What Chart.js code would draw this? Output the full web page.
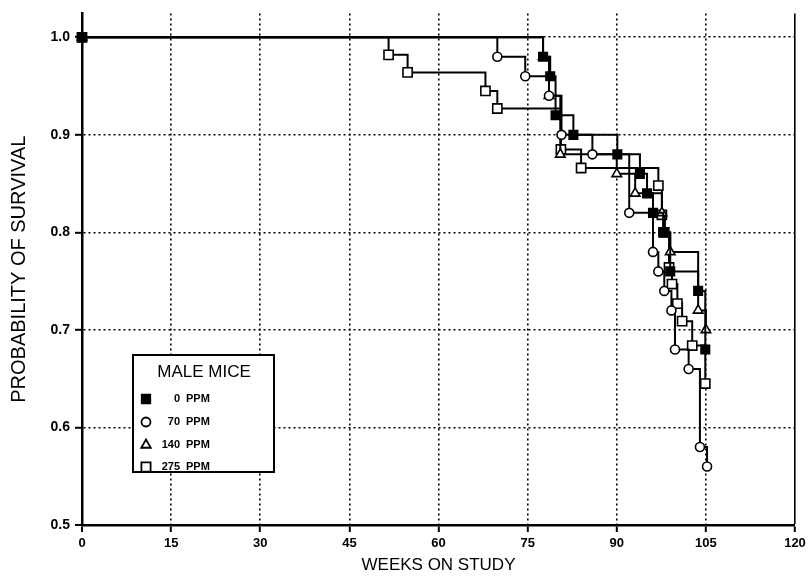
<!DOCTYPE html>
<html>
<head>
<meta charset="utf-8">
<script src="https://cdn.jsdelivr.net/npm/chart.js@4/dist/chart.umd.min.js"></script>
<style>
  html, body { margin: 0; padding: 0; background: #fff; }
  #wrap { width: 811px; height: 579px; }
</style>
</head>
<body>
<div id="wrap"><canvas id="survChart" width="811" height="579"></canvas></div>
<script>
// Kaplan-Meier survival, male mice, by dose group
var weeks0 = [0, 77.6, 78.8, 79.7, 82.7, 90.1, 93.9, 95.1, 96.1, 97.8, 99.0, 103.7, 104.9];
var surv0  = [1.0, 0.98, 0.96, 0.92, 0.90, 0.88, 0.86, 0.84, 0.82, 0.80, 0.76, 0.74, 0.68];

var weeks70 = [0, 69.9, 74.6, 78.6, 80.7, 85.9, 92.1, 96.1, 97.0, 98.0, 99.2, 99.8, 102.1, 104.0, 105.2];
var surv70  = [1.0, 0.98, 0.96, 0.94, 0.90, 0.88, 0.82, 0.78, 0.76, 0.74, 0.72, 0.68, 0.66, 0.58, 0.56];

var weeks140 = [0, 77.6, 78.6, 80.5, 90.0, 93.1, 97.6, 98.1, 99.0, 103.7, 105.0];
var surv140  = [1.0, 0.98, 0.94, 0.88, 0.86, 0.84, 0.82, 0.80, 0.78, 0.72, 0.70];

var weeks275 = [0, 51.6, 54.8, 67.9, 69.9, 80.6, 84.0, 97.0, 97.6, 98.0, 98.8, 99.3, 100.2, 101.0, 102.7, 104.9];
var surv275  = [1.0, 0.982, 0.964, 0.945, 0.927, 0.885, 0.866, 0.848, 0.818, 0.80, 0.764, 0.747, 0.727, 0.709, 0.684, 0.645];

var groupLabels = ['0 PPM', '70 PPM', '140 PPM', '275 PPM'];
var xTicks = [0, 15, 30, 45, 60, 75, 90, 105, 120];
var yTicks = [0.5, 0.6, 0.7, 0.8, 0.9, 1.0];

var fontFam = '"Liberation Sans Narrow", "Liberation Sans", Arial, sans-serif';

function toPoints(xs, ys) {
    var pts = [];
    for (var i = 0; i < xs.length; i++) {
        pts.push({ x: xs[i], y: ys[i] });
    }
    return pts;
}

function makeSet(label, xs, ys, style, radius, filled) {
    return {
        label: label,
        data: toPoints(xs, ys),
        stepped: 'before',
        borderColor: '#000',
        borderWidth: 2,
        pointStyle: style,
        pointRadius: radius,
        pointBorderWidth: 1.6,
        pointBorderColor: '#000',
        pointBackgroundColor: filled ? '#000' : '#fff',
        fill: false,
        clip: false
    };
}

// legend box drawn inside the plot, lower left
var boxLegend = {
    id: 'boxLegend',
    afterDraw: function(chart) {
        var ctx = chart.ctx;
        var x0 = 133, y0 = 355, w = 141, h = 117;
        ctx.save();
        ctx.fillStyle = '#fff';
        ctx.fillRect(x0, y0, w, h);
        ctx.lineWidth = 2;
        ctx.strokeStyle = '#000';
        ctx.strokeRect(x0, y0, w, h);

        ctx.fillStyle = '#000';
        ctx.textBaseline = 'middle';
        ctx.textAlign = 'center';
        ctx.font = '17px ' + fontFam;
        ctx.fillText('MALE MICE', 204, 372);

        var styles = ['rect', 'circle', 'triangle', 'rect'];
        var radii = [6, 4.5, 5.5, 6.5];
        var rows = [399, 422, 445, 467];
        ctx.font = 'bold 11px ' + fontFam;
        for (var i = 0; i < groupLabels.length; i++) {
            var parts = groupLabels[i].split(' ');
            ctx.fillStyle = i === 0 ? '#000' : '#fff';
            ctx.strokeStyle = '#000';
            ctx.lineWidth = 1.8;
            Chart.helpers.drawPoint(ctx, { pointStyle: styles[i], radius: radii[i], borderWidth: 1.8 }, 146, rows[i]);
            if (i === 0) ctx.fill();
            ctx.fillStyle = '#000';
            ctx.textAlign = 'right';
            ctx.fillText(parts[0], 180, rows[i]);
            ctx.textAlign = 'left';
            ctx.fillText(parts[1], 186, rows[i]);
        }
        ctx.restore();
    }
};

var ctx = document.getElementById('survChart').getContext('2d');

var chart = new Chart(ctx, {
    type: 'line',
    data: {
        datasets: [
            makeSet(groupLabels[0], weeks0, surv0, 'rect', 6, true),
            makeSet(groupLabels[1], weeks70, surv70, 'circle', 4.5, false),
            makeSet(groupLabels[2], weeks140, surv140, 'triangle', 5.5, false),
            makeSet(groupLabels[3], weeks275, surv275, 'rect', 6.5, false)
        ]
    },
    options: {
        responsive: false,
        devicePixelRatio: 1,
        animation: false,
        layout: { padding: { left: 0, right: 16, top: 0, bottom: 0 } },
        plugins: {
            legend: { display: false },
            tooltip: { enabled: false }
        },
        scales: {
            x: {
                type: 'linear',
                min: 0,
                max: 120,
                afterBuildTicks: function(scale) {
                    scale.ticks = xTicks.map(function(v) { return { value: v }; });
                },
                afterFit: function(scale) { scale.height = 54; },
                ticks: {
                    color: '#000',
                    padding: 4,
                    maxRotation: 0,
                    font: { family: fontFam, size: 13, weight: 'bold' },
                    callback: function(v) { return String(v); }
                },
                grid: {
                    color: '#000',
                    lineWidth: function(c) { return c.tick && c.tick.value === 0 ? 0 : 1.6; },
                    tickLength: 7,
                    tickWidth: 2,
                    tickColor: '#000',
                    tickBorderDash: []
                },
                border: {
                    display: true,
                    color: '#000',
                    width: 2.5,
                    dash: function(c) { return c.tick && c.tick.value === 120 ? [] : [2, 3]; }
                },
                title: {
                    display: true,
                    text: 'WEEKS ON STUDY',
                    color: '#000',
                    font: { family: fontFam, size: 17 },
                    padding: { top: 0, bottom: 3 }
                }
            },
            y: {
                type: 'linear',
                min: 0.5,
                max: 1.0245,
                afterBuildTicks: function(scale) {
                    scale.ticks = yTicks.map(function(v) { return { value: v }; });
                },
                afterFit: function(scale) { scale.width = 82; },
                ticks: {
                    color: '#000',
                    padding: 5,
                    font: { family: fontFam, size: 14, weight: 'bold' },
                    callback: function(v) { return Number(v).toFixed(1); }
                },
                grid: {
                    color: '#000',
                    lineWidth: function(c) { return c.tick && c.tick.value === 0.5 ? 0 : 1.6; },
                    tickLength: 7,
                    tickWidth: 2,
                    tickColor: '#000',
                    tickBorderDash: []
                },
                border: {
                    display: true,
                    color: '#000',
                    width: 2.5,
                    dash: [2, 3]
                },
                title: {
                    display: true,
                    text: 'PROBABILITY OF SURVIVAL',
                    color: '#000',
                    font: { family: fontFam, size: 20 },
                    padding: { top: 7, bottom: 0 }
                }
            }
        }
    },
    plugins: [boxLegend]
});
</script>
</body>
</html>
